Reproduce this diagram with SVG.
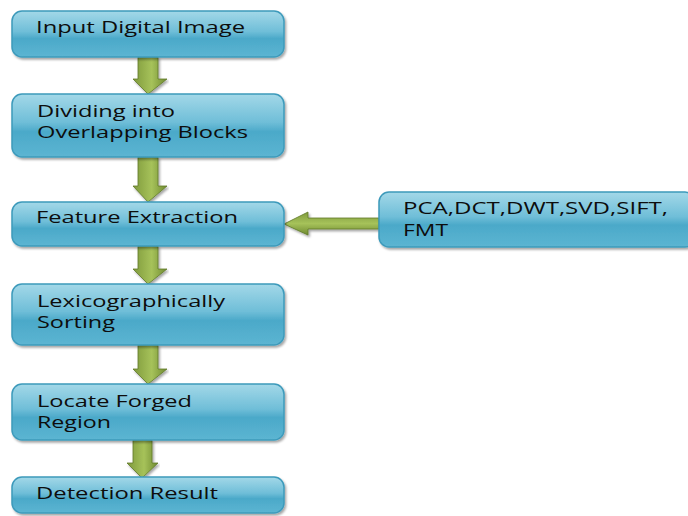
<svg xmlns="http://www.w3.org/2000/svg" width="688" height="516" viewBox="0 0 688 516">
<defs>
<linearGradient id="boxg" x1="0" y1="0" x2="0" y2="1">
<stop offset="0" stop-color="#a3d8e8"/>
<stop offset="0.45" stop-color="#6fbed8"/>
<stop offset="0.6" stop-color="#4ba9c9"/>
<stop offset="1" stop-color="#5cb5d2"/>
</linearGradient>
<linearGradient id="arrv" x1="0" y1="0" x2="1" y2="0">
<stop offset="0" stop-color="#7f9a3c"/>
<stop offset="0.55" stop-color="#a6c25a"/>
<stop offset="1" stop-color="#6f8a30"/>
</linearGradient>
<linearGradient id="arrh" x1="0" y1="0" x2="0" y2="1">
<stop offset="0" stop-color="#7f9a3c"/>
<stop offset="0.5" stop-color="#a6c25a"/>
<stop offset="1" stop-color="#6f8a30"/>
</linearGradient>
<filter id="sh" x="-5%" y="-10%" width="110%" height="130%">
<feDropShadow dx="1.5" dy="2" stdDeviation="1.2" flood-color="#000" flood-opacity="0.35"/>
</filter>
</defs>
<style>
.box{fill:url(#boxg);stroke:#3d9abb;stroke-width:1.5;filter:url(#sh)}
.t{font-family:"Open Sans","DejaVu Sans",sans-serif;font-size:16.5px;font-weight:500;fill:#0d0d0d}
.av{fill:url(#arrv);stroke:#5f7a28;stroke-width:0.8;filter:url(#sh)}
.ah{fill:url(#arrh);stroke:#5f7a28;stroke-width:0.8;filter:url(#sh)}
</style>
<g id="connectors">
<polygon class="av" points="138,57 158,57 158,79 167,79 148,94 133,79 138,79"/>
<polygon class="av" points="138,157 158,157 158,186 167,186 148,202 133,186 138,186"/>
<polygon class="av" points="138,246 158,246 158,269 167,269 148,284 133,269 138,269"/>
<polygon class="av" points="138,345 158,345 158,369 167,369 148,384 133,369 138,369"/>
<polygon class="av" points="133,440 152,440 152,463 158,463 142,478 127,463 133,463"/>
<polygon class="ah" points="379,218 379,229 308,229 308,235 284,224 308,212 308,218"/>
</g>
<g id="n1"><rect class="box" x="12" y="11" width="272" height="46" rx="10"/><text class="t" x="36" y="33" textLength="209" lengthAdjust="spacingAndGlyphs">Input Digital Image</text></g>
<g id="n2"><rect class="box" x="12" y="94" width="272" height="63" rx="10"/><text class="t" x="37" y="117" textLength="138" lengthAdjust="spacingAndGlyphs">Dividing into</text><text class="t" x="37" y="138" textLength="211" lengthAdjust="spacingAndGlyphs">Overlapping Blocks</text></g>
<g id="n3"><rect class="box" x="12" y="202" width="272" height="44" rx="10"/><text class="t" x="36" y="223" textLength="202" lengthAdjust="spacingAndGlyphs">Feature Extraction</text></g>
<g id="n4"><rect class="box" x="12" y="284" width="272" height="61" rx="10"/><text class="t" x="37" y="307" textLength="188" lengthAdjust="spacingAndGlyphs">Lexicographically</text><text class="t" x="37" y="328" textLength="78" lengthAdjust="spacingAndGlyphs">Sorting</text></g>
<g id="n5"><rect class="box" x="12" y="384" width="272" height="56" rx="10"/><text class="t" x="37" y="407" textLength="155" lengthAdjust="spacingAndGlyphs">Locate Forged</text><text class="t" x="37" y="428" textLength="74" lengthAdjust="spacingAndGlyphs">Region</text></g>
<g id="n6"><rect class="box" x="12" y="477" width="272" height="36" rx="10"/><text class="t" x="36" y="499" textLength="182" lengthAdjust="spacingAndGlyphs">Detection Result</text></g>
<g id="n7"><rect class="box" x="379" y="192" width="316" height="55" rx="10"/><text class="t" x="403" y="214" textLength="265" lengthAdjust="spacingAndGlyphs">PCA,DCT,DWT,SVD,SIFT,</text><text class="t" x="403" y="236" textLength="45" lengthAdjust="spacingAndGlyphs">FMT</text></g>
</svg>
